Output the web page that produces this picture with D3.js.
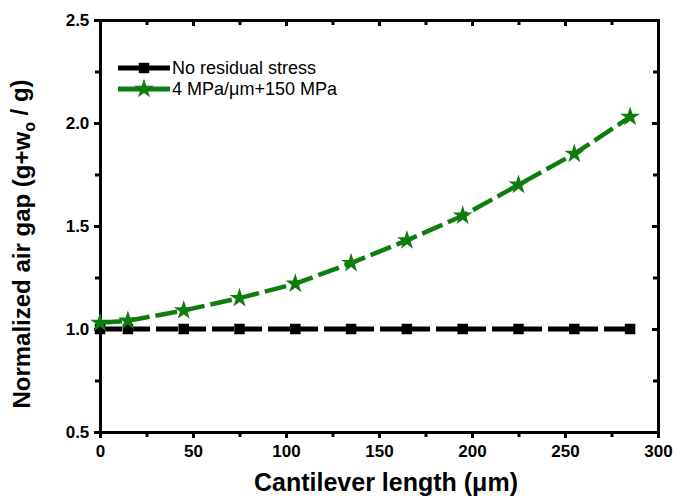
<!DOCTYPE html>
<html>
<head>
<meta charset="utf-8">
<script src="https://cdn.jsdelivr.net/npm/d3@7"></script>
<style>
 body { margin: 0; background: #fff; }
 text { font-family: Arial, "Liberation Sans", sans-serif; }
</style>
</head>
<body>
<svg id="chart"></svg>
<script>
const lengths = [0, 15, 45, 75, 105, 135, 165, 195, 225, 255, 285];
const noStress = [1.0, 1.0, 1.0, 1.0, 1.0, 1.0, 1.0, 1.0, 1.0, 1.0, 1.0];
const withStress = [1.03, 1.04, 1.09, 1.15, 1.22, 1.32, 1.43, 1.55, 1.70, 1.85, 2.03];
const xTicks = [0, 50, 100, 150, 200, 250, 300];
const yTicks = [0.5, 1.0, 1.5, 2.0, 2.5];
const seriesNames = ["No residual stress", "4 MPa/\u03bcm+150 MPa"];

const width = 676, height = 498;
const margin = { left: 100, right: 18, top: 20, bottom: 66 };

const svg = d3.select("#chart").attr("width", width).attr("height", height);

const x = d3.scaleLinear().domain([0, 300]).range([margin.left, width - margin.right]);
const y = d3.scaleLinear().domain([0.5, 2.5]).range([height - margin.bottom, margin.top]);

const minorX = d3.range(25, 300, 50);
const minorY = d3.range(0.75, 2.5, 0.5);

// axes
const bottomAxis = svg.append("g").attr("transform", `translate(0,${y(0.5)})`)
 .call(d3.axisBottom(x).tickValues(xTicks).tickSize(6).tickFormat(d3.format("d")));
const leftAxis = svg.append("g").attr("transform", `translate(${x(0)},0)`)
 .call(d3.axisLeft(y).tickValues(yTicks).tickSize(6).tickFormat(d3.format(".1f")));
svg.append("g").attr("transform", `translate(0,${y(2.5)})`)
 .call(d3.axisBottom(x).tickValues(xTicks).tickSize(6).tickFormat(""));
svg.append("g").attr("transform", `translate(${x(300)},0)`)
 .call(d3.axisLeft(y).tickValues(yTicks).tickSize(6).tickFormat(""));

svg.append("g").attr("transform", `translate(0,${y(0.5)})`)
 .call(d3.axisBottom(x).tickValues(minorX).tickSize(5).tickFormat(""));
svg.append("g").attr("transform", `translate(${x(0)},0)`)
 .call(d3.axisLeft(y).tickValues(minorY).tickSize(5).tickFormat(""));
svg.append("g").attr("transform", `translate(0,${y(2.5)})`)
 .call(d3.axisBottom(x).tickValues(minorX).tickSize(5).tickFormat(""));
svg.append("g").attr("transform", `translate(${x(300)},0)`)
 .call(d3.axisLeft(y).tickValues(minorY).tickSize(5).tickFormat(""));

svg.selectAll(".domain").attr("stroke", "#000").attr("stroke-width", 3);
svg.selectAll(".tick line").attr("stroke", "#000").attr("stroke-width", 3);
svg.selectAll(".tick text").attr("fill", "#000").style("font-size", "17px").style("font-weight", "bold");
bottomAxis.selectAll(".tick text").attr("dy", "0.95em");
leftAxis.selectAll(".tick text").attr("dx", "-0.1em");

// lines
const line = d3.line().x((d, i) => x(lengths[i])).y(d => y(d));

svg.append("path").datum(noStress).attr("d", line)
 .attr("fill", "none").attr("stroke", "#000").attr("stroke-width", 5)
 .attr("stroke-dasharray", "22,6");
svg.append("path").datum(withStress).attr("d", line)
 .attr("fill", "none").attr("stroke", "#0e7d0e").attr("stroke-width", 4.5)
 .attr("stroke-dasharray", "22,6");

const square = d3.symbol().type(d3.symbolSquare).size(110);
const star = d3.symbol().type(d3.symbolStar).size(120);

svg.append("g").selectAll("path").data(noStress).join("path")
 .attr("d", square)
 .attr("transform", (d, i) => `translate(${x(lengths[i])},${y(d)})`)
 .attr("fill", "#000");
svg.append("g").selectAll("path").data(withStress).join("path")
 .attr("d", star)
 .attr("transform", (d, i) => `translate(${x(lengths[i])},${y(d)})`)
 .attr("fill", "#0e7d0e");

// legend
const legend = svg.append("g").attr("transform", "translate(118,68)");
const legendItems = [
 { name: seriesNames[0], color: "#000", sym: square },
 { name: seriesNames[1], color: "#0e7d0e", sym: star }
];
legendItems.forEach((it, i) => {
 const g = legend.append("g").attr("transform", `translate(0,${i * 21})`);
 g.append("line").attr("x1", 0).attr("x2", 52).attr("y1", 0).attr("y2", 0)
  .attr("stroke", it.color).attr("stroke-width", 5);
 g.append("path").attr("d", it.sym).attr("transform", "translate(26,0)").attr("fill", it.color);
 g.append("text").attr("x", 54).attr("y", 0).attr("dy", "0.36em")
  .style("font-size", "18px").attr("fill", "#000").text(it.name);
});

// axis titles
svg.append("text")
 .attr("x", 386).attr("y", 491)
 .attr("text-anchor", "middle")
 .style("font-size", "25px").style("font-weight", "bold")
 .text("Cantilever length (\u03bcm)");

const yt = svg.append("text")
 .attr("transform", `translate(30,244) rotate(-90)`)
 .attr("text-anchor", "middle")
 .style("font-size", "24px").style("font-weight", "bold");
yt.append("tspan").text("Normalized air gap (g+w");
yt.append("tspan").attr("dy", "0.3em").style("font-size", "16px").text("o");
yt.append("tspan").attr("dy", "-0.3em").text(" / g)");
</script>
</body>
</html>
